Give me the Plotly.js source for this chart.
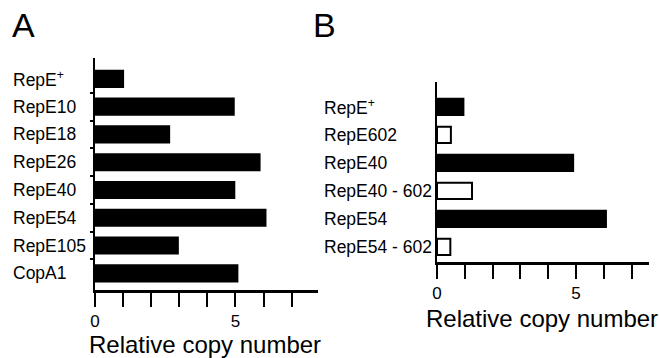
<!DOCTYPE html>
<html>
<head>
<meta charset="utf-8">
<script src="https://cdn.plot.ly/plotly-3.0.1.min.js"></script>
<style>html,body{margin:0;padding:0;background:#fff;}#chart{width:659px;height:358px;}</style>
</head>
<body>
<div id="chart"></div>
<script>
// Panel A data
const catsA = ['RepE<sup>+</sup>', 'RepE10', 'RepE18', 'RepE26', 'RepE40', 'RepE54', 'RepE105', 'CopA1'];
const valsA = [1.0, 4.94, 2.64, 5.86, 4.96, 6.07, 2.95, 5.07];
// Panel B data
const catsB = ['RepE<sup>+</sup>', 'RepE602', 'RepE40', 'RepE40 - 602', 'RepE54', 'RepE54 - 602'];
const valsB = [0.95, 0.5, 4.9, 1.26, 6.08, 0.48];
const filledB = [true, false, true, false, true, false];
// Axis ticks
const xTickVals = [0, 5];
const xTickText = ['0', '5'];
const axisTitle = 'Relative copy number';

const W = 659, H = 358;
const px = v => v / W;
const py = v => 1 - v / H;
const FONT = 'Liberation Sans, Arial, Helvetica, sans-serif';

const traceA = {
  type: 'bar', orientation: 'h',
  x: valsA, y: catsA.map((c, i) => i),
  xaxis: 'x', yaxis: 'y',
  marker: {color: '#000', line: {color: '#000', width: 2}},
  hoverinfo: 'none'
};
const traceB = {
  type: 'bar', orientation: 'h',
  x: valsB, y: catsB.map((c, i) => i),
  xaxis: 'x2', yaxis: 'y2',
  marker: {color: filledB.map(f => f ? '#000' : '#fff'), line: {color: '#000', width: 2}},
  hoverinfo: 'none'
};

const xCommon = {
  showline: true, linecolor: '#000', linewidth: 2.5,
  showgrid: false, zeroline: false,
  ticks: 'outside', ticklen: 14, tickwidth: 2, tickcolor: '#000',
  tickmode: 'array', tickvals: xTickVals, ticktext: xTickText,
  minor: {ticks: 'outside', ticklen: 14, tickwidth: 2, tickcolor: '#000', dtick: 1, tick0: 0, showgrid: false},
  tickfont: {family: FONT, size: 17, color: '#000'},
  fixedrange: true
};

const layout = {
  width: W, height: H,
  margin: {l: 0, r: 0, t: 0, b: 0},
  paper_bgcolor: '#fff', plot_bgcolor: '#fff',
  showlegend: false,
  bargap: 0.42,
  font: {family: FONT, color: '#000'},
  xaxis: Object.assign({}, xCommon, {domain: [px(95), px(318)], range: [0, 7.94], anchor: 'y'}),
  yaxis: {
    domain: [py(290), py(58)], anchor: 'x',
    range: [7.6, -0.75], showline: true, linecolor: '#000', linewidth: 2.5,
    showgrid: false, zeroline: false, showticklabels: false,
    tickmode: 'array', tickvals: [0.5, 1.5, 2.5, 3.5, 4.5, 5.5, 6.5],
    ticks: 'outside', ticklen: 3, tickwidth: 2, tickcolor: '#000'
  },
  xaxis2: Object.assign({}, xCommon, {domain: [px(437), px(649)], range: [0, 7.63], anchor: 'y2'}),
  yaxis2: {
    domain: [py(262), py(82)], anchor: 'x2',
    range: [5.54, -0.89], showline: true, linecolor: '#000', linewidth: 2.5,
    showgrid: false, zeroline: false, showticklabels: false, ticks: ''
  },
  annotations: []
};

catsA.forEach((c, i) => layout.annotations.push({
  text: c, xref: 'paper', yref: 'y', x: px(11), y: i,
  xanchor: 'left', yanchor: 'middle', showarrow: false,
  font: {family: FONT, size: 17.5, color: '#000'}
}));
catsB.forEach((c, i) => layout.annotations.push({
  text: c, xref: 'paper', yref: 'y2', x: px(322), y: i,
  xanchor: 'left', yanchor: 'middle', showarrow: false,
  font: {family: FONT, size: 17.5, color: '#000'}
}));
// Panel letters
layout.annotations.push({text: 'A', xref: 'paper', yref: 'paper', x: px(10), y: py(25), xanchor: 'left', yanchor: 'middle', showarrow: false, font: {family: FONT, size: 34, color: '#000'}});
layout.annotations.push({text: 'B', xref: 'paper', yref: 'paper', x: px(311), y: py(25), xanchor: 'left', yanchor: 'middle', showarrow: false, font: {family: FONT, size: 34, color: '#000'}});
// Axis titles
layout.annotations.push({text: axisTitle, xref: 'paper', yref: 'paper', x: px(205), y: py(344), xanchor: 'center', yanchor: 'middle', showarrow: false, font: {family: FONT, size: 24, color: '#000'}});
layout.annotations.push({text: axisTitle, xref: 'paper', yref: 'paper', x: px(542), y: py(318), xanchor: 'center', yanchor: 'middle', showarrow: false, font: {family: FONT, size: 24, color: '#000'}});

Plotly.newPlot('chart', [traceA, traceB], layout, {staticPlot: true, displayModeBar: false});
</script>
</body>
</html>
